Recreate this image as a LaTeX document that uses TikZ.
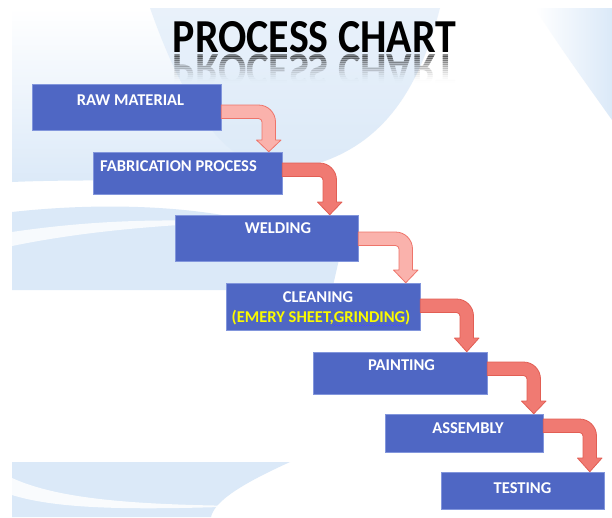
\documentclass[tikz,border=0pt]{standalone}
\usepackage{fontspec}
\setmainfont{Carlito}
\usetikzlibrary{calc}

\definecolor{boxblue}{RGB}{79,103,196}
\definecolor{boxedge}{RGB}{130,150,220}
\definecolor{arrowfill}{RGB}{240,122,114}
\definecolor{arrowedge}{RGB}{226,94,84}
\definecolor{palefill}{RGB}{250,178,172}
\definecolor{paleedge}{RGB}{238,116,106}
\definecolor{swoosh}{RGB}{219,233,248}
\definecolor{labelyellow}{RGB}{250,250,0}

\tikzset{
  procbox/.style={rectangle, fill=boxblue, draw=boxedge, line width=0.5pt, inner sep=0pt},
  proctext/.style={anchor=base, inner sep=0pt, text=white, font=\fontsize{16.5}{18}\selectfont\bfseries},
  darkarrow/.style={fill=arrowfill, draw=arrowedge, line width=0.8pt, line join=round},
  palearrow/.style={fill=palefill, draw=paleedge, line width=0.8pt, line join=round},
}

% bent block arrow: #1 style, #2 source node, #3 target node,
% #4 top of the horizontal band, #5 left of the vertical band, #6 top of the head
\newcommand\bentarrow[6]{%
  \pgfmathsetmacro\arYb{#4+13.5}
  \pgfmathsetmacro\arXr{#5+13.5}
  \pgfmathsetmacro\arXa{\arXr-17}
  \pgfmathsetmacro\arXb{\arXr-17+9.4}
  \pgfmathsetmacro\arYc{#4+17-9.4}
  \pgfmathsetmacro\arYd{#4+17}
  \pgfmathsetmacro\arXe{\arXr+5.5}
  \pgfmathsetmacro\arXf{#5-5.5}
  \pgfmathsetmacro\arXm{#5+6.75}
  \pgfmathsetmacro\arYg{\arYb+3.5}
  \pgfmathsetmacro\arYh{\arYb+3.5-1.93}
  \pgfmathsetmacro\arXi{#5-3.5+1.93}
  \pgfmathsetmacro\arXj{#5-3.5}
  \path[#1] (#2.east |- 0,#4) -- (\arXa,#4)
     .. controls (\arXb,#4) and (\arXr,\arYc) .. (\arXr,\arYd)
     -- (\arXr,#6) -- (\arXe,#6) -- (\arXm,0 |- #3.north) -- (\arXf,#6) -- (#5,#6)
     -- (#5,\arYg) .. controls (#5,\arYh) and (\arXi,\arYb) .. (\arXj,\arYb)
     -- (#2.east |- 0,\arYb) -- cycle;
}

\begin{document}
\begin{tikzpicture}[x=1pt, y=-1pt]
\useasboundingbox (0,0) rectangle (612,517);
\fill[white] (0,0) rectangle (612,517);

% pale background swooshes
\shade[top color=white, bottom color=swoosh]
  (12,8) -- (440,8) .. controls (420,85) and (385,150) .. (300,168)
  .. controls (200,185) and (100,178) .. (12,182) -- cycle;
\fill[swoosh, opacity=0.6]
  (150,8) -- (440,8) .. controls (420,85) and (385,150) .. (300,168)
  .. controls (250,176) and (200,150) .. (150,8);
\fill[swoosh]
  (12,290) -- (12,212) .. controls (120,200) and (260,205) .. (340,255)
  -- (332,290) -- cycle;
\fill[white, opacity=0.8]
  (12,232) .. controls (80,222) and (150,218) .. (230,222)
  .. controls (150,226) and (80,232) .. (12,246) -- cycle;
\shade[left color=white, right color=swoosh]
  (535,8) -- (612,8) -- (612,120) .. controls (585,82) and (558,45) .. (535,8);
\fill[swoosh]
  (12,462) -- (290,462) .. controls (255,478) and (215,498) .. (211,517)
  -- (12,517) -- cycle;
\fill[white, opacity=0.85]
  (12,478) .. controls (60,500) and (140,505) .. (250,506)
  .. controls (140,510) and (60,510) .. (12,495) -- cycle;

% title with its faded reflection
\node[anchor=south, inner sep=0pt] (title) at (314.5,53.5)
  {\resizebox{283pt}{31pt}{\bfseries PROCESS CHART}};
\foreach \i in {0,...,13}{
  \begin{scope}
    \clip (150,{54+2*\i}) rectangle (480,{56+2*\i});
    \node[anchor=north, inner sep=0pt, text=black, opacity={0.45*(1-\i/14)*(1-\i/14)}] at (314.5,54)
      {\scalebox{1}[-1]{\resizebox{283pt}{31pt}{\bfseries PROCESS CHART}}};
  \end{scope}
}

% process steps
\node[procbox, minimum width=189pt, minimum height=46pt] (b1) at (126.5,107) {};
\node[procbox, minimum width=189pt, minimum height=42pt] (b2) at (187.5,173) {};
\node[procbox, minimum width=183pt, minimum height=46pt] (b3) at (266.5,238) {};
\node[procbox, minimum width=194pt, minimum height=47pt] (b4) at (323,306.5) {};
\node[procbox, minimum width=174pt, minimum height=42pt] (b5) at (400,373) {};
\node[procbox, minimum width=158pt, minimum height=38pt] (b6) at (464,433) {};
\node[procbox, minimum width=163pt, minimum height=37pt] (b7) at (522.5,490.5) {};

\node[proctext] (t1) at (130.5,105) {RAW MATERIAL};
\node[proctext] (t2) at (178.5,171) {FABRICATION PROCESS};
\node[proctext] (t3) at (278,233) {WELDING};
\node[proctext] (t4) at (318,302) {CLEANING};
\node[proctext, text=labelyellow] (t4y) at (321,322) {(EMERY SHEET,GRINDING)};
\node[proctext] (t5) at (401.5,370) {PAINTING};
\node[proctext] (t6) at (468,433) {ASSEMBLY};
\node[proctext] (t7) at (522.5,493) {TESTING};

% spelling squiggle under the second word
\draw[blue!70!white, line width=0.6pt, densely dotted] (333,325.5) -- (403,325.5);

% connecting block arrows
\bentarrow{palearrow}{b1}{b2}{105}{262}{140}
\bentarrow{darkarrow}{b2}{b3}{163}{323}{202}
\bentarrow{palearrow}{b3}{b4}{232}{399}{270}
\bentarrow{darkarrow}{b4}{b5}{299}{460}{338}
\bentarrow{darkarrow}{b5}{b6}{362}{527}{401}
\bentarrow{darkarrow}{b6}{b7}{419}{583}{458}
\end{tikzpicture}
\end{document}
